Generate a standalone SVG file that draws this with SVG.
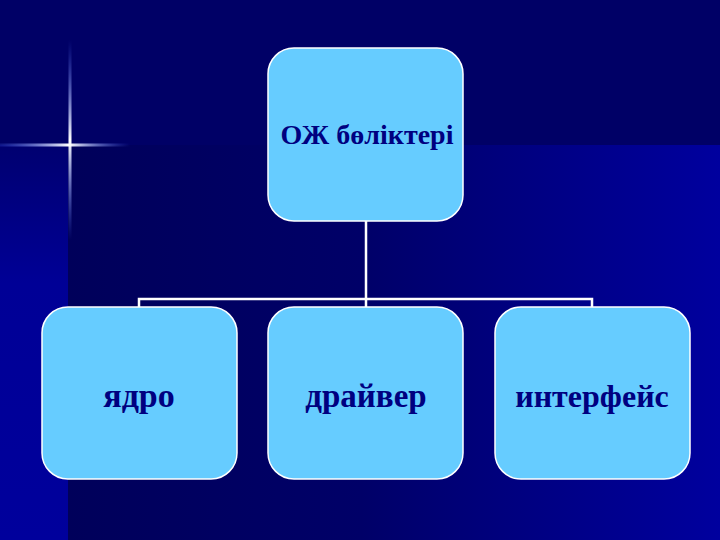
<svg xmlns="http://www.w3.org/2000/svg" width="720" height="540" viewBox="0 0 720 540">
<defs>
<linearGradient id="rightBg" x1="0" y1="0" x2="1" y2="0">
<stop offset="0" stop-color="#00005a"/>
<stop offset="0.45" stop-color="#000068"/>
<stop offset="1" stop-color="#00009e"/>
</linearGradient>
<linearGradient id="leftBg" x1="0" y1="0" x2="0" y2="1">
<stop offset="0" stop-color="#000070"/>
<stop offset="0.35" stop-color="#000096"/>
<stop offset="1" stop-color="#00009c"/>
</linearGradient>
<linearGradient id="flareV" x1="0" y1="0" x2="0" y2="1">
<stop offset="0" stop-color="#4a6cff" stop-opacity="0"/>
<stop offset="0.5" stop-color="#ffffff" stop-opacity="1"/>
<stop offset="1" stop-color="#4a6cff" stop-opacity="0"/>
</linearGradient>
<linearGradient id="flareH" x1="0" y1="0" x2="1" y2="0">
<stop offset="0" stop-color="#4a6cff" stop-opacity="0.2"/>
<stop offset="0.53" stop-color="#ffffff" stop-opacity="1"/>
<stop offset="1" stop-color="#4a6cff" stop-opacity="0"/>
</linearGradient>
<style>
.box{fill:#66ccff;stroke:#ffffff;stroke-width:1.5}
.lbl{font-family:"Liberation Serif","Times New Roman",serif;font-weight:bold;fill:#000080;text-anchor:middle}
.conn{stroke:#ffffff;stroke-width:2.5;fill:none}
</style>
</defs>
<rect x="0" y="0" width="720" height="540" fill="#000066"/>
<rect x="68" y="145" width="652" height="395" fill="url(#rightBg)"/>
<rect x="0" y="145" width="68" height="395" fill="url(#leftBg)"/>
<rect x="68.5" y="40" width="3" height="200" fill="url(#flareV)"/>
<rect x="0" y="143.5" width="130" height="3" fill="url(#flareH)"/>
<g id="connectors">
<path class="conn" d="M366 221 V307 M139 307 V299 H592 V307"/>
</g>
<g id="node-root">
<rect class="box" x="268" y="48" width="195" height="173" rx="26"/>
<text class="lbl" x="367" y="144" font-size="28">ОЖ бөліктері</text>
</g>
<g id="node-kernel">
<rect class="box" x="42" y="307" width="195" height="172" rx="26"/>
<text class="lbl" x="139" y="407" font-size="34">ядро</text>
</g>
<g id="node-driver">
<rect class="box" x="268" y="307" width="195" height="172" rx="26"/>
<text class="lbl" x="366" y="407" font-size="33">драйвер</text>
</g>
<g id="node-interface">
<rect class="box" x="495" y="307" width="195" height="172" rx="26"/>
<text class="lbl" x="592" y="407" font-size="32">интерфейс</text>
</g>
</svg>
